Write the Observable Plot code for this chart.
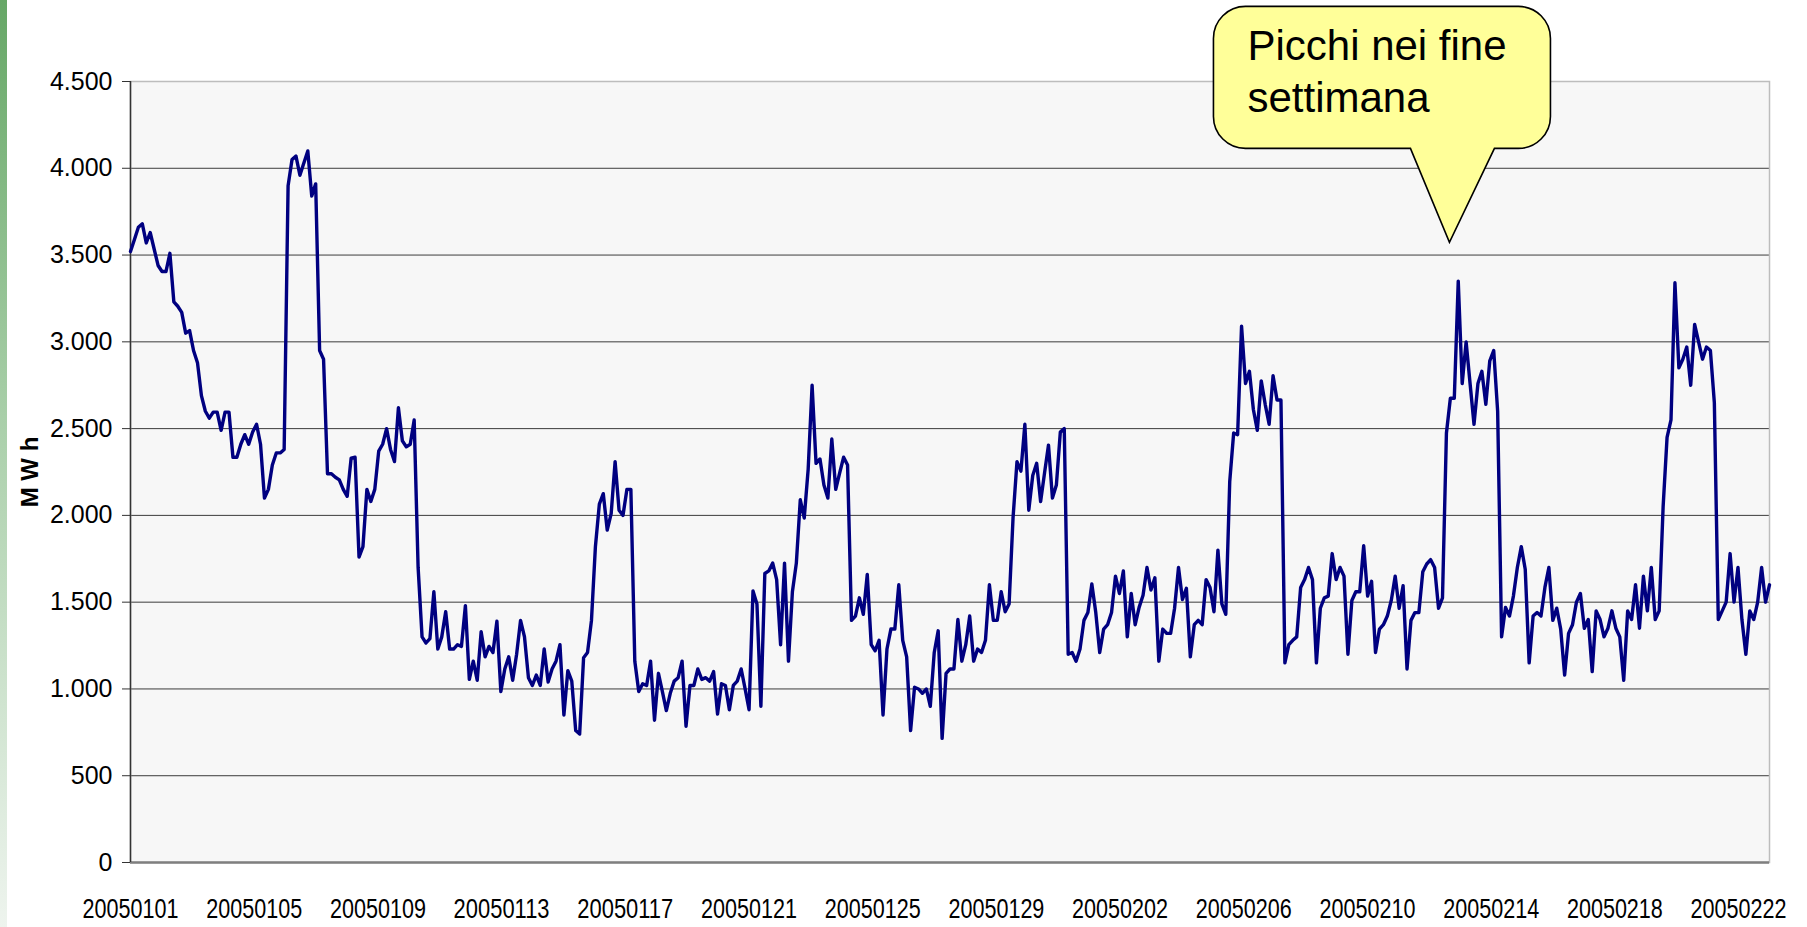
<!DOCTYPE html>
<html><head><meta charset="utf-8">
<script src="https://cdn.jsdelivr.net/npm/d3@7"></script>
<script src="https://cdn.jsdelivr.net/npm/@observablehq/plot@0.6"></script>
<style>
html,body{margin:0;padding:0;background:#fff;}
#wrap{position:relative;width:1807px;height:927px;overflow:hidden;background:#fff;}
#strip{position:absolute;left:0;top:0;width:7px;height:927px;background:linear-gradient(#66a766,#a9cfa9 45%,#eef4ee);}
#chart{position:absolute;left:0;top:0;}
</style></head><body>
<div id="wrap"><div id="strip"></div><div id="chart"></div></div>
<script>
// ---- data (evenly spaced samples from 1 Jan to end of 22 Feb 2005) ----
const startDate = "2005-01-01T00:00Z";
const endDate = "2005-02-23T00:00Z";
const mwh = [
3520,3590,3660,3680,3570,3630,3535,3440,3405,3405,
3510,3230,3205,3170,3050,3065,2950,2880,2690,2600,
2560,2595,2595,2490,2595,2595,2335,2335,2410,2465,
2410,2480,2525,2410,2100,2150,2290,2360,2360,2380,
3900,4050,4070,3960,4030,4100,3840,
3910,2950,2900,2240,2240,2220,2205,2150,2110,2330,
2335,1760,1820,2150,2080,2150,2370,2410,2500,2380,
2310,2620,2430,2395,2410,2550,1700,1300,1265,1290,
1560,1230,1300,1445,1230,1230,1255,1245,1480,1055,
1160,1050,1330,1185,1245,1210,
1390,985,1115,1185,1050,1200,1395,1300,1065,1020,
1080,1020,1230,1040,1115,1160,1255,850,1105,1045,
760,740,1180,1210,1395,1820,2065,2125,1915,2010,
2310,2030,2000,2150,2150,1160,985,1030,1020,1160,
820,1090,985,875,975,1045,
1065,1160,785,1020,1020,1115,1055,1065,1045,1100,
855,1030,1020,880,1020,1045,1115,1000,880,1565,
1490,900,1665,1680,1725,1630,1255,1725,1160,1560,
1725,2090,1985,2265,2750,2300,2325,2175,2100,2440,
2150,2245,2335,2290,1395,1420,
1525,1430,1660,1255,1220,1280,850,1230,1345,1345,
1600,1280,1185,760,1010,1000,975,1000,900,1210,
1335,715,1090,1115,1115,1400,1160,1255,1420,1160,
1230,1210,1280,1600,1395,1395,1560,1445,1490,1985,
2310,2255,2525,2030,2230,
2300,2080,2245,2405,2100,2175,2480,2500,1200,1210,
1160,1230,1395,1440,1605,1440,1210,1345,1370,1440,
1650,1550,1680,1300,1550,1370,1470,1540,1700,1570,
1640,1160,1345,1320,1320,1465,1700,1515,1580,1185,
1370,1395,1370,1630,1585,1445,
1800,1490,1430,2195,2475,2465,3090,2760,2830,2610,
2490,2775,2640,2525,2805,2665,2665,1150,1255,1280,
1300,1585,1630,1700,1630,1150,1465,1525,1535,1780,
1630,1700,1650,1200,1510,1560,1560,1825,1535,1620,
1210,1345,1370,1420,1510,1650,
1465,1595,1115,1395,1440,1440,1675,1720,1745,1700,
1465,1525,2475,2675,2675,3350,2760,3000,2760,2525,
2760,2830,2640,2890,2950,2600,1300,1470,1420,1535,
1700,1820,1690,1150,1420,1440,1420,1585,1700,1395,
1465,1345,1080,1320,1370,
1500,1550,1350,1400,1100,1450,1400,1300,1350,1450,
1350,1300,1050,1450,1400,1600,1350,1650,1450,1700,
1400,1450,2050,2450,2550,3340,2850,2900,2970,2750,
3100,3000,2900,2970,2950,2650,1400,1450,1500,1780,
1500,1700,1400,1200,1450,1400,1500,1700,1500,1600
];
const tickLabels = ["20050101","20050105","20050109","20050113","20050117","20050121","20050125",
                    "20050129","20050202","20050206","20050210","20050214","20050218","20050222"];
const yTicks = [0,500,1000,1500,2000,2500,3000,3500,4000,4500];
const gridValues = [500,1000,1500,2000,2500,3000,3500,4000];
const yLabel = "M W h";
const calloutLines = ["Picchi nei fine", "settimana"];
const calloutTip = {date: "2005-02-12T16:00Z", value: 3570};

// ---- build ----
const t0 = new Date(startDate), t1 = new Date(endDate);
const step = (t1 - t0) / (mwh.length - 1);
const data = mwh.map((v, i) => ({date: new Date(+t0 + i * step), value: v}));
const tickDates = tickLabels.map(d3.utcParse("%Y%m%d"));
const itFormat = d3.formatLocale({decimal: ",", thousands: ".", grouping: [3], currency: ["", "€"]}).format(",");
const sans = "'Liberation Sans', Arial, sans-serif";

const plot = Plot.plot({
  width: 1807, height: 927,
  marginLeft: 130, marginRight: 38, marginTop: 81, marginBottom: 65,
  style: {fontFamily: sans, background: "transparent", overflow: "visible", color: "#000"},
  x: {type: "utc", domain: [t0, t1]},
  y: {domain: [0, 4500]},
  marks: [
    Plot.frame({fill: "#f7f7f7", stroke: "none"}),
    Plot.gridY({ticks: gridValues, stroke: "#3c3c3c", strokeOpacity: 1, strokeWidth: 1}),
    Plot.frame({stroke: "#bdbdbd", fill: "none", strokeWidth: 1.5}),
    Plot.ruleY([0], {stroke: "#7f7f7f", strokeWidth: 2.5}),
    Plot.ruleX([t0], {stroke: "#333", strokeWidth: 1.5}),
    Plot.axisY({ticks: yTicks, tickSize: 8, tickPadding: 10, tickFormat: itFormat, fontSize: 25, label: null, stroke: "#333"}),
    Plot.axisX({ticks: tickDates, tickSize: 0, tickPadding: 36, tickFormat: d3.utcFormat("%Y%m%d"), fontSize: 28, label: null}),
    Plot.line(data, {x: "date", y: "value", stroke: "#000080", strokeWidth: 3.4, strokeLinejoin: "round"})
  ]
});
document.getElementById("chart").appendChild(plot);

const svg = d3.select(plot);
// condensed look of the date labels: squeeze each label horizontally around its centre
svg.selectAll('g[aria-label="x-axis tick label"] text').each(function() {
  const w = this.getComputedTextLength();
  const k = w > 0 ? 96 / w : 1;
  const tr = this.getAttribute("transform") || "";
  this.setAttribute("transform", tr + ` scale(${k},1)`);
});

// y-axis title
svg.append("text")
  .attr("transform", "translate(29,472) rotate(-90)")
  .attr("text-anchor", "middle").attr("dominant-baseline", "central")
  .style("font-family", sans)
  .style("font-weight", "bold").style("font-size", "24px").attr("fill", "#000")
  .text(yLabel);

// callout
const xs = plot.scale("x"), ys = plot.scale("y");
const tx = xs.apply(new Date(calloutTip.date)), ty = ys.apply(calloutTip.value);
const L = tx - 236, R = tx + 101, T = ty - 236, B = ty - 94, r = 32;
const pl = tx - 39, pr = tx + 45;
const path = `M${L + r},${T} H${R - r} A${r},${r} 0 0 1 ${R},${T + r} V${B - r} A${r},${r} 0 0 1 ${R - r},${B}
  H${pr} L${tx},${ty} L${pl},${B} H${L + r} A${r},${r} 0 0 1 ${L},${B - r} V${T + r} A${r},${r} 0 0 1 ${L + r},${T} Z`;
svg.append("path").attr("d", path).attr("fill", "#ffff99").attr("stroke", "#000").attr("stroke-width", 1.6);
calloutLines.forEach((s, i) => {
  svg.append("text").attr("x", tx - 202).attr("y", ty - 182 + i * 52)
    .attr("text-anchor", "start")
    .style("font-family", sans).style("font-size", "42px")
    .attr("fill", "#000").text(s);
});
</script>
</body></html>
